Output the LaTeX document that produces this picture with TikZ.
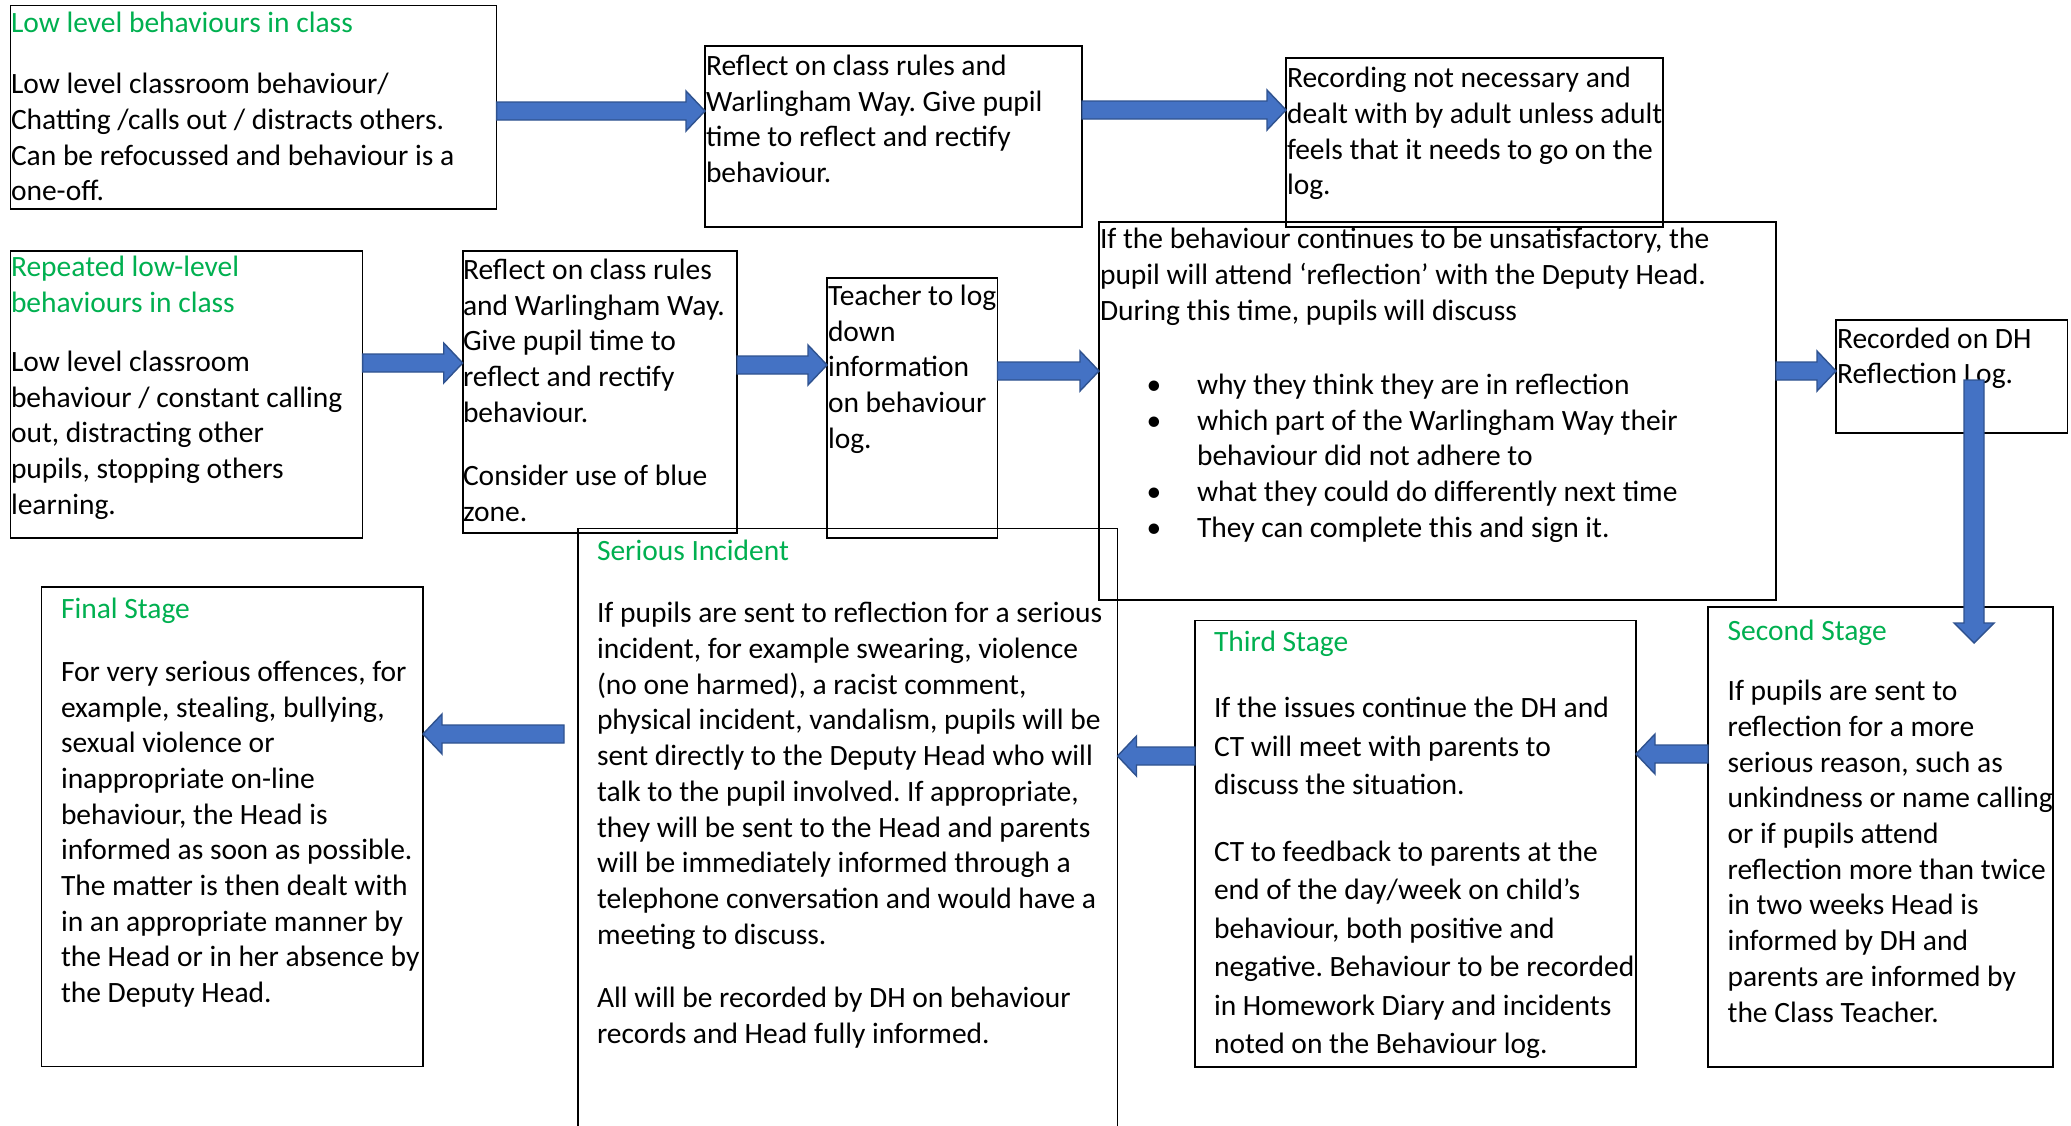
\documentclass[tikz,border=0pt]{standalone}
\usepackage{fontspec}
\setmainfont{Carlito}
\usetikzlibrary{calc}
\definecolor{hdgreen}{HTML}{00B050}
\definecolor{arrfill}{HTML}{4472C4}
\definecolor{arrline}{HTML}{2F528F}
\newcommand{\mystrut}{\rule{0pt}{26.3pt}}
\newcommand{\barrowR}[3]{%
  \draw[barrow] ($(#1 |- 0,#3)+(0,-9)$) -- ($(#2 |- 0,#3)+(-19,-9)$) -- ($(#2 |- 0,#3)+(-19,-20)$)
    -- (#2 |- 0,#3) -- ($(#2 |- 0,#3)+(-19,20)$) -- ($(#2 |- 0,#3)+(-19,9)$) -- ($(#1 |- 0,#3)+(0,9)$) -- cycle;}
\newcommand{\barrowL}[3]{%
  \draw[barrow] ($(#1 |- 0,#3)+(0,-9)$) -- ($(#2 |- 0,#3)+(19,-9)$) -- ($(#2 |- 0,#3)+(19,-20)$)
    -- (#2 |- 0,#3) -- ($(#2 |- 0,#3)+(19,20)$) -- ($(#2 |- 0,#3)+(19,9)$) -- ($(#1 |- 0,#3)+(0,9)$) -- cycle;}
\begin{document}
\frenchspacing
\begin{tikzpicture}[x=1pt,y=-1pt,
  box/.style={draw=black, line width=1.6pt, rectangle, inner sep=0pt, outer sep=0pt, anchor=north west},
  txt/.style={anchor=north west, inner sep=0pt, outer sep=0pt, align=left, font={\fontsize{29.5pt}{35.7pt}\selectfont}},
  txtwide/.style={txt, font={\fontsize{29.5pt}{38.5pt}\selectfont}},
  hd/.style={txt, text=hdgreen},
  bul/.style={anchor=base, inner sep=0pt, font={\fontsize{29.5pt}{35.7pt}\selectfont}},
  barrow/.style={fill=arrfill, draw=arrline, line width=1.4pt, line join=miter}]
\useasboundingbox (0,0) rectangle (2071,1125);
\clip (0,0) rectangle (2071,1125);
\fill[white] (0,0) rectangle (2071,1125);

% boxes
\node[box, minimum width=486pt, minimum height=203.4pt] (A) at (10.6,5.3) {};
\node[box, minimum width=377pt, minimum height=181pt] (B) at (705,46) {};
\node[box, minimum width=377pt, minimum height=169pt] (C) at (1286,58) {};
\node[box, minimum width=352pt, minimum height=287pt] (D) at (10.6,251) {};
\node[box, minimum width=274.3pt, minimum height=281.7pt] (E) at (462.7,251) {};
\node[box, minimum width=170.5pt, minimum height=260.3pt] (F) at (827,277.7) {};
\node[box, minimum width=677pt, minimum height=378.3pt] (G) at (1099,221.7) {};
\node[box, minimum width=231.5pt, minimum height=113pt] (H) at (1836,320) {};
\node[box, minimum width=381.5pt, minimum height=479.5pt] (Final) at (41.5,587) {};
\node[box, minimum width=539.5pt, minimum height=620pt] (Serious) at (578,528.5) {};
\node[box, minimum width=441pt, minimum height=446.5pt] (Third) at (1195,620.5) {};
\node[box, minimum width=345pt, minimum height=460pt] (Second) at (1708,607) {};

% texts
\node[hd] (tAh) at (11,6) {\mystrut Low level behaviours in class};
\node[txt] (tA) at (11,67.5) {\mystrut Low level classroom behaviour/\\Chatting /calls out / distracts others.\\Can be refocussed and behaviour is a\\one-off.};
\node[txt] (tB) at (706,49) {\mystrut Reflect on class rules and\\Warlingham Way. Give pupil\\time to reflect and rectify\\behaviour.};
\node[txt] (tC) at (1287,61.5) {\mystrut Recording not necessary and\\dealt with by adult unless adult\\feels that it needs to go on the\\log.};
\node[hd] (tDh) at (11,250) {\mystrut Repeated low-level\\behaviours in class};
\node[txt] (tD) at (11,345) {\mystrut Low level classroom\\behaviour / constant calling\\out, distracting other\\pupils, stopping others\\learning.};
\node[txt] (tE) at (463,253) {\mystrut Reflect on class rules\\and Warlingham Way.\\Give pupil time to\\reflect and rectify\\behaviour.};
\node[txt] (tE2) at (463,459) {\mystrut Consider use of blue\\zone.};
\node[txt] (tF) at (828,279) {\mystrut Teacher to log\\down\\information\\on behaviour\\log.};
\node[txt] (tG) at (1100,222.5) {\mystrut If the behaviour continues to be unsatisfactory, the\\pupil will attend ‘reflection’ with the Deputy Head.\\During this time, pupils will discuss};
\node[bul] (g1) at (1154,394.3) {•};
\node[bul] (g2) at (1154,430) {•};
\node[bul] (g3) at (1154,501.4) {•};
\node[bul] (g4) at (1154,537.1) {•};
\node[txt] (tGb) at (1197,368) {\mystrut why they think they are in reflection\\which part of the Warlingham Way their\\behaviour did not adhere to\\what they could do differently next time\\They can complete this and sign it.};
\node[txt] (tH) at (1837,321.7) {\mystrut Recorded on DH\\Reflection Log.};

\node[hd] (tFh) at (61,592.5) {\mystrut Final Stage};
\node[txt] (tFin) at (61,655) {\mystrut For very serious offences, for\\example, stealing, bullying,\\sexual violence or\\inappropriate on-line\\behaviour, the Head is\\informed as soon as possible.\\The matter is then dealt with\\in an appropriate manner by\\the Head or in her absence by\\the Deputy Head.};
\node[hd] (tSh) at (597,534.4) {\mystrut Serious Incident};
\node[txt] (tS) at (597,596.5) {\mystrut If pupils are sent to reflection for a serious\\incident, for example swearing, violence\\(no one harmed), a racist comment,\\physical incident, vandalism, pupils will be\\sent directly to the Deputy Head who will\\talk to the pupil involved. If appropriate,\\they will be sent to the Head and parents\\will be immediately informed through a\\telephone conversation and would have a\\meeting to discuss.};
\node[txt] (tS2) at (597,981) {\mystrut All will be recorded by DH on behaviour\\records and Head fully informed.};
\node[hd] (tTh) at (1214,625.6) {\mystrut Third Stage};
\node[txtwide] (tT) at (1214,691.6) {\mystrut If the issues continue the DH and\\CT will meet with parents to\\discuss the situation.};
\node[txtwide] (tT2) at (1214,835) {\mystrut CT to feedback to parents at the\\end of the day/week on child’s\\behaviour, both positive and\\negative. Behaviour to be recorded\\in Homework Diary and incidents\\noted on the Behaviour log.};
\node[hd] (tSeh) at (1727.6,613.7) {\mystrut Second Stage};
\node[txt] (tSe) at (1727.6,674.4) {\mystrut If pupils are sent to\\reflection for a more\\serious reason, such as\\unkindness or name calling\\or if pupils attend\\reflection more than twice\\in two weeks Head is\\informed by DH and\\parents are informed by\\the Class Teacher.};

% arrows
\barrowR{A.east}{B.west}{111}
\barrowR{B.east}{C.west}{110}
\barrowR{D.east}{E.west}{363}
\barrowR{E.east}{F.west}{365}
\barrowR{F.east}{G.west}{371}
\barrowR{G.east}{H.west}{371}
\barrowL{Second.west}{Third.east}{754}
\barrowL{Third.west}{Serious.east}{756}
\coordinate (sfstart) at (564,734);
\barrowL{sfstart}{Final.east}{734}
\coordinate (vs) at (1974,380);
\coordinate (ve) at (1974,643);
\draw[barrow] ($(vs)+(-10,0)$) -- ($(ve)+(-10,-20)$) -- ($(ve)+(-20,-20)$) -- (ve) -- ($(ve)+(20,-20)$) -- ($(ve)+(10,-20)$) -- ($(vs)+(10,0)$) -- cycle;
\end{tikzpicture}
\end{document}
